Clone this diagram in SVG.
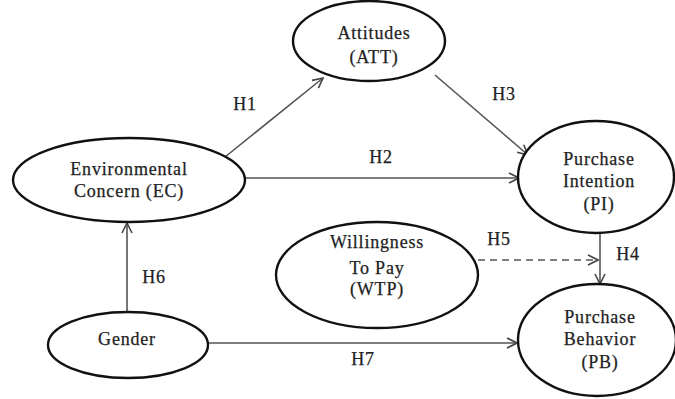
<svg xmlns="http://www.w3.org/2000/svg" width="675" height="399" viewBox="0 0 675 399">
<style>
.node ellipse{fill:#fff;stroke:#111;stroke-width:2.4}
.node text,.lbl{font-family:"Liberation Serif","Times New Roman",serif;font-size:18px;fill:#222;stroke:#222;stroke-width:0.25;text-anchor:middle;letter-spacing:0.8px}
.edge{stroke:#555;stroke-width:1.6;fill:none}
.dash{stroke-dasharray:7 5}
</style>
<defs>
<marker id="arr" viewBox="0 0 12 12" refX="11" refY="6" markerWidth="12" markerHeight="12" markerUnits="userSpaceOnUse" orient="auto">
<path d="M1,1 L11,6 L1,11" fill="none" stroke="#444" stroke-width="1.6"/>
</marker>
</defs>
<rect width="675" height="399" fill="#fff"/>
<g id="connectors">
<line class="edge" x1="225" y1="157" x2="323" y2="78" marker-end="url(#arr)"/>
<line class="edge" x1="435" y1="75" x2="528" y2="155" marker-end="url(#arr)"/>
<line class="edge" x1="245" y1="178" x2="519" y2="178" marker-end="url(#arr)"/>
<line class="edge" x1="600" y1="234" x2="600" y2="284" marker-end="url(#arr)"/>
<line class="edge dash" x1="478" y1="260" x2="598" y2="260" marker-end="url(#arr)"/>
<line class="edge" x1="127" y1="312" x2="127" y2="223" marker-end="url(#arr)"/>
<line class="edge" x1="208" y1="343" x2="517" y2="343" marker-end="url(#arr)"/>
<text class="lbl" x="245" y="110">H1</text>
<text class="lbl" x="381" y="163">H2</text>
<text class="lbl" x="504" y="100">H3</text>
<text class="lbl" x="628" y="260">H4</text>
<text class="lbl" x="499" y="245">H5</text>
<text class="lbl" x="154" y="283">H6</text>
<text class="lbl" x="363" y="365">H7</text>
</g>
<g id="att" class="node">
<ellipse cx="369" cy="41" rx="76" ry="40"/>
<text x="374" y="39">Attitudes</text>
<text x="374" y="63">(ATT)</text>
</g>
<g id="ec" class="node">
<ellipse cx="129" cy="180" rx="116" ry="42"/>
<text x="129" y="175">Environmental</text>
<text x="129" y="197">Concern (EC)</text>
</g>
<g id="pi" class="node">
<ellipse cx="596" cy="177" rx="78" ry="56"/>
<text x="599" y="165">Purchase</text>
<text x="599" y="187">Intention</text>
<text x="599" y="210">(PI)</text>
</g>
<g id="wtp" class="node">
<ellipse cx="377" cy="275" rx="101" ry="53"/>
<text x="377" y="248">Willingness</text>
<text x="377" y="274">To Pay</text>
<text x="377" y="295">(WTP)</text>
</g>
<g id="pb" class="node">
<ellipse cx="597" cy="340" rx="79" ry="56"/>
<text x="600" y="323">Purchase</text>
<text x="600" y="345">Behavior</text>
<text x="600" y="368">(PB)</text>
</g>
<g id="gender" class="node">
<ellipse cx="128" cy="345" rx="80" ry="33"/>
<text x="127" y="345">Gender</text>
</g>
</svg>
